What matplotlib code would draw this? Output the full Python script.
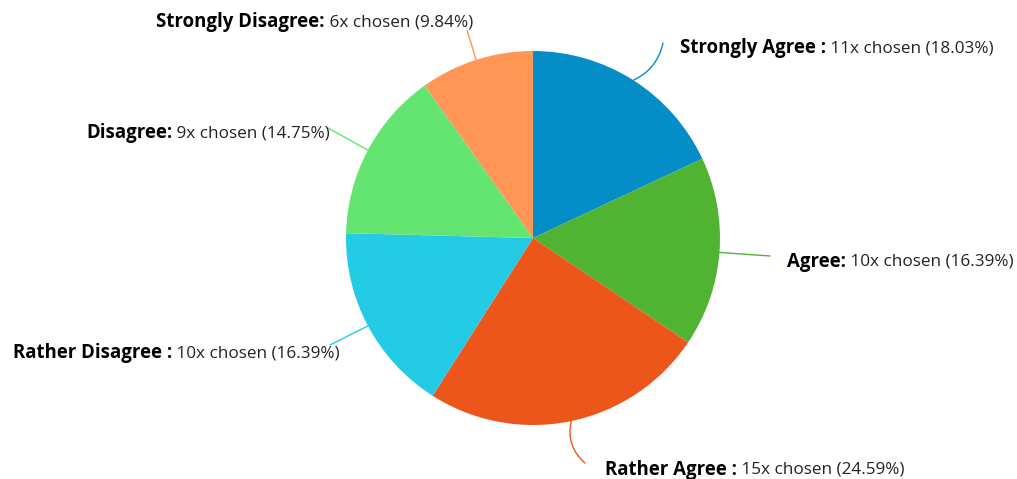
import matplotlib
matplotlib.use("Agg")
import matplotlib.pyplot as plt
import numpy as np

# survey answers
labels = ["Strongly Agree :", "Agree:", "Rather Agree :", "Rather Disagree :", "Disagree:", "Strongly Disagree:"]
counts = [11, 10, 15, 10, 9, 6]
colors = ["#058DC7", "#50B432", "#ED561B", "#24CBE5", "#64E572", "#FF9655"]

# layout (image pixels): connector end, text anchor x, text centre y, side
lab_end = [(663, 43), (770, 256), (585, 463), (330, 345), (328, 128), (467, 30)]
lab_x = [680, 787, 605, 340, 330, 473]
lab_y = [48, 262, 470, 353, 133, 22]
lab_side = ["left", "left", "left", "right", "right", "right"]
lab_rad = [-0.25, 0.0, -0.3, 0.0, 0.0, 0.0]

W, H = 1017, 479
cx, cy, r = 533, 238, 187
fs_bold, fs_norm = 13.4, 12.3

plt.rcParams['font.family'] = ['Open Sans', 'DejaVu Sans']

fig = plt.figure(figsize=(W / 100, H / 100), dpi=100)
ax = fig.add_axes([0, 0, 1, 1])
ax.pie(counts, colors=colors, startangle=90, counterclock=False,
       center=(cx, H - cy), radius=r, wedgeprops=dict(linewidth=0))
ax.set_xlim(0, W)
ax.set_ylim(0, H)
ax.set_aspect("auto")
ax.axis("off")

total = sum(counts)
fig.canvas.draw()
renderer = fig.canvas.get_renderer()
cum = 0
for i, lab in enumerate(labels):
    mid = (cum + counts[i] / 2) / total * 2 * np.pi
    cum += counts[i]
    px = cx + r * np.sin(mid)
    py = H - (cy - r * np.cos(mid))
    ex, ey = lab_end[i]
    ax.annotate("", xy=(px, py), xytext=(ex, H - ey),
                arrowprops=dict(arrowstyle="-", color=colors[i], lw=1,
                                shrinkA=0, shrinkB=0,
                                connectionstyle="arc3,rad=%s" % lab_rad[i]))
    pct = counts[i] / total * 100
    rest = " %dx chosen (%.2f%%)" % (counts[i], pct)
    ty = H - lab_y[i]
    if lab_side[i] == "left":
        t1 = ax.text(lab_x[i], ty, lab, fontsize=fs_bold, fontweight="bold",
                     color="#000000", ha="left", va="center")
        bb = t1.get_window_extent(renderer)
        ax.text(bb.x1, ty, rest, fontsize=fs_norm, color="#222222",
                ha="left", va="center")
    else:
        t2 = ax.text(lab_x[i], ty, rest, fontsize=fs_norm, color="#222222",
                     ha="right", va="center")
        bb = t2.get_window_extent(renderer)
        ax.text(bb.x0, ty, lab, fontsize=fs_bold, fontweight="bold",
                color="#000000", ha="right", va="center")

fig.savefig("out.png", dpi=100)
